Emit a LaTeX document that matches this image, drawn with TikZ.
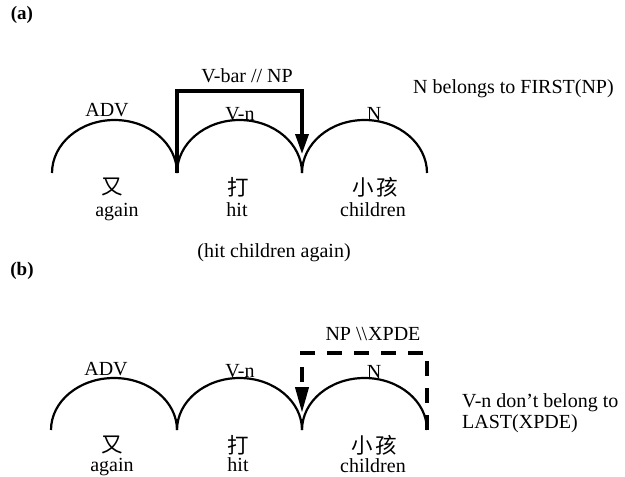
\documentclass[tikz,border=0pt]{standalone}
\usepackage{fontspec}
\setmainfont{Liberation Serif}
\newfontfamily\cjk{Noto Sans CJK SC}
\usetikzlibrary{arrows.meta}
\begin{document}
\begin{tikzpicture}[x=1pt,y=1pt,yscale=-1,
  lbl/.style={font=\fontsize{20}{21.5}\selectfont,inner sep=0pt,anchor=base},
  tag/.style={font=\bfseries\fontsize{19}{21}\selectfont,inner sep=0pt,anchor=center},
  zh/.style={font=\cjk\fontsize{21.5}{24}\selectfont,inner sep=0pt,anchor=center},
  arcline/.style={line width=2.2pt},
  solidarrow/.style={line width=3.5pt,-{Triangle[length=20pt,width=13pt]}},
  dashbox/.style={line width=4pt,dash pattern=on 15pt off 12pt,-{Triangle[length=26pt,width=13pt]}}]
\fill[white] (0,0) rectangle (625,477);
\useasboundingbox (0,0) rectangle (625,477);

% ---------- (a) ----------
\node[tag] (taga) at (22,15) {(a)};
\coordinate (a0) at (52,173);
\coordinate (a1) at (177,173);
\coordinate (a2) at (302,173);
\coordinate (a3) at (427,173);
\draw[arcline] (a0) arc[start angle=180,end angle=360,x radius=62.5pt,y radius=53pt];
\draw[arcline] (a1) arc[start angle=180,end angle=360,x radius=62.5pt,y radius=53pt];
\draw[arcline] (a2) arc[start angle=180,end angle=360,x radius=62.5pt,y radius=53pt];

\node[lbl] (advA) at (107,116) {ADV};
\node[lbl] (vnA) at (240,120) {V-n};
\node[lbl] (nA) at (374,120) {N};
\node[lbl] (vbar) at (247,82) {V-bar // NP};
\node[lbl,anchor=base west] (firstnp) at (413,93) {N belongs to FIRST(NP)};

\node[zh] (youA) at (112,187) {又};
\node[zh] (daA) at (238,187) {打};
\node[zh] (xhA) at (375,187) {小\kern3pt孩};
\node[lbl] (againA) at (117,216) {again};
\node[lbl] (hitA) at (237,216) {hit};
\node[lbl] (chA) at (373,216) {children};
\node[lbl] (gloss) at (274,257) {(hit children again)};

\coordinate (boxTL) at (177,91);
\coordinate (boxTR) at (302,91);
\coordinate (tipA) at (302,154);
\draw[solidarrow] (a1) -- (boxTL) -- (boxTR) -- (tipA);

% ---------- (b) ----------
\node[tag] (tagb) at (22,271) {(b)};
\coordinate (b0) at (51,430);
\coordinate (b1) at (177,430);
\coordinate (b2) at (302,430);
\coordinate (b3) at (427,430);
\draw[arcline] (b0) arc[start angle=180,end angle=360,x radius=63pt,y radius=52pt];
\draw[arcline] (b1) arc[start angle=180,end angle=360,x radius=62.5pt,y radius=52pt];
\draw[arcline] (b2) arc[start angle=180,end angle=360,x radius=62.5pt,y radius=52pt];

\node[lbl] (advB) at (106,375) {ADV};
\node[lbl] (vnB) at (240,377) {V-n};
\node[lbl] (nB) at (374,378) {N};
\node[lbl] (npx) at (373,340) {NP \textbackslash\textbackslash\kern1pt XPDE};
\node[lbl,anchor=north west,align=left] (lastx) at (462,393) {V-n don't belong to\\LAST(XPDE)};

\node[zh] (youB) at (112,445) {又};
\node[zh] (daB) at (238,445) {打};
\node[zh] (xhB) at (374,445) {小\kern3pt孩};
\node[lbl] (againB) at (112,471) {again};
\node[lbl] (hitB) at (238,471) {hit};
\node[lbl] (chB) at (373,472) {children};

\coordinate (dTR) at (427,353);
\coordinate (dTL) at (302,353);
\coordinate (tipB) at (302,413);
\draw[dashbox] (b3) -- (dTR) -- (dTL) -- (tipB);
\end{tikzpicture}
\end{document}
